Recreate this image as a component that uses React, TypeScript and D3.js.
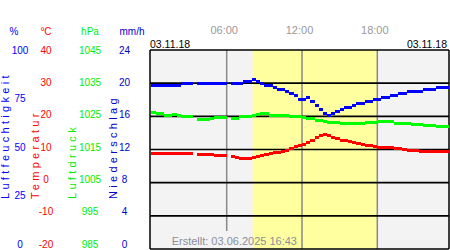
import React from 'react';
import * as d3 from 'd3';

// ---- data (20-minute readings, 03.11.18) ----
const stepHours = 1 / 3;
const humidity: (number | null)[] = [
  82, 82, 82, 82, 82, 82, 82,
  83, 83, 83, null, 83, 83, 83, 83, 83, 83, 83, null, 83, 83, 83,
  84, 84, 85, 84, 83, 82, 82, 81,
  80, 80, 79, 78, 77, 75, 75, 76, 74, 72,
  70, 68, 67, 68, 69, 70, 71, 71, 72, 73,
  73, 74, 74, 75, 75, 76, 76, 77, 77, 78,
  78, 79, 79, 79, 79, 80, 80, 80, 81, 81,
  81, 81,
];
const temperature: (number | null)[] = [
  8.7, 8.7, 8.7, 8.7, 8.7, 8.7, 8.7,
  8.9, 8.9, 8.9, null, 8.6, 8.6, 8.5, 8.5, 8.3, 8.3, 8.3, null, 7.8, 7.6, 7.4,
  7.4, 7.4, 7.6, 7.9, 8.2, 8.5, 8.8, 9.0,
  9.1, 9.4, 9.8, 10.3, 10.8, 11.3, 11.5, 12.0, 12.6, 13.7,
  14.3, 14.5, 14.1, 13.6, 13.2, 12.8, 12.7, 12.3, 12.1, 11.9,
  11.6, 11.3, 11.1, 10.9, 10.7, 10.5, 10.5, 10.5, 10.2, 10.2,
  10.1, 9.7, 9.7, 9.7, 9.5, 9.5, 9.5, 9.5, 9.5, 9.5,
  9.5, 9.5,
];
const pressure: (number | null)[] = [
  1026.2, 1025.8, 1025.8, 1025.4, 1025.4, 1025.5, 1025.3,
  1025.1, 1025.0, 1024.8, null, 1024.0, 1024.0, 1024.0, 1024.3, 1024.5, 1024.5, 1024.5, null, 1024.4, 1024.4, 1024.8,
  1025.0, 1025.1, 1025.3, 1025.7, 1026.0, 1025.9, 1025.4, 1025.3,
  1025.3, 1025.3, 1025.3, 1025.0, 1024.9, 1024.9, 1024.7, 1024.3, 1024.2, 1023.8,
  1023.6, 1023.4, 1023.1, 1023.1, 1023.1, 1022.9, 1022.9, 1022.9, 1022.9, 1022.8,
  1022.8, 1023.0, 1023.1, 1023.1, 1023.3, 1023.3, 1023.3, 1023.3, 1022.9, 1022.9,
  1022.9, 1022.9, 1022.5, 1022.5, 1022.5, 1022.1, 1022.1, 1022.1, 1021.9, 1021.9,
  1021.9, 1021.9,
];

const humidityTicks = [0, 25, 50, 75, 100];
const tempTicks = [-20, -10, 0, 10, 20, 30, 40];
const pressureTicks = [985, 995, 1005, 1015, 1025, 1035, 1045];
const rainTicks = [0, 4, 8, 12, 16, 20, 24];
const timeTicks = [6, 12, 18];
const timeLabels = ['06:00', '12:00', '18:00'];
const daylight = [8.07, 18.0];
const dateLabel = '03.11.18';
const createdLabel = 'Erstellt: 03.06.2025 16:43';

const FONT = 'Liberation Sans, Arial, sans-serif';

export default function App() {
  const W = 450, H = 250;
  const L = 150, R = 449, T = 50, B = 249;
  const x = d3.scaleLinear().domain([0, 24]).range([151.4, 452.6]);
  const yHum = d3.scaleLinear().domain([0, 100]).range([B, T]);
  const yTemp = d3.scaleLinear().domain([-20, 40]).range([B, T]);
  const yPres = d3.scaleLinear().domain([985, 1045]).range([B, T]);
  // label scales (tick text)
  const lHum = d3.scaleLinear().domain([0, 100]).range([244, 50]);
  const lTemp = d3.scaleLinear().domain([-20, 40]).range([244, 50]);
  const lPres = d3.scaleLinear().domain([985, 1045]).range([244, 50]);
  const lRain = d3.scaleLinear().domain([0, 24]).range([244, 50]);

  const createdTop = 231;
  const createdLeft = 175;
  const createdRight = 297;

  const series = [
    { data: humidity, y: yHum, color: '#0000ff' },
    { data: pressure, y: yPres, color: '#00ff00' },
    { data: temperature, y: yTemp, color: '#ff0000' },
  ];

  return (
    <div style={{ position: 'absolute', left: 0, top: 0 }}>
      <svg width={W} height={H} style={{ display: 'block', background: '#fff' }} fontFamily={FONT}>
        <defs>
          <clipPath id="plot">
            <rect x={L} y={T} width={R - L} height={B - T} />
          </clipPath>
        </defs>
        {/* background */}
        <rect x={L} y={T} width={R - L} height={B - T} fill="#f3f3f3" />
        <rect x={x(daylight[0])} y={T} width={x(daylight[1]) - x(daylight[0])} height={B - T} fill="#ffffa0" />

        {/* vertical time lines */}
        {timeTicks.map((t) => {
          const xx = x(t);
          const y2 = xx > createdLeft && xx < createdRight ? createdTop : B;
          return <line key={t} x1={xx} x2={xx} y1={T} y2={y2} stroke="#888" strokeWidth={1.5} />;
        })}
        {/* horizontal grid */}
        {tempTicks.map((v) => (
          <line key={v} x1={L} x2={R} y1={yTemp(v)} y2={yTemp(v)} stroke="#000" strokeWidth={1.6} />
        ))}
        <line x1={L} x2={L} y1={T} y2={B} stroke="#000" strokeWidth={1.5} />
        <line x1={R} x2={R} y1={T} y2={B} stroke="#000" strokeWidth={1.5} />

        {/* data */}
        <g clipPath="url(#plot)" shapeRendering="crispEdges">
          {series.map((s, si) =>
            s.data.map((v, i) =>
              v == null ? null : (
                <line
                  key={si + '-' + i}
                  x1={x(i * stepHours)}
                  x2={x((i + 1) * stepHours)}
                  y1={s.y(v)}
                  y2={s.y(v)}
                  stroke={s.color}
                  strokeWidth={3}
                />
              )
            )
          )}
        </g>

        <text x={createdRight} y={241} textAnchor="end" dominantBaseline="central" fontSize={11} fill="#8a8f9a">
          {createdLabel}
        </text>

        {/* time labels */}
        {timeTicks.map((t, i) => (
          <text key={t} x={x(t) - 2.5} y={30} textAnchor="middle" dominantBaseline="central" fontSize={11} fill="#999">
            {timeLabels[i]}
          </text>
        ))}
        <text x={150} y={43.5} dominantBaseline="central" fontSize={10.5} fill="#000">{dateLabel}</text>
        <text x={447} y={43.5} textAnchor="end" dominantBaseline="central" fontSize={10.5} fill="#000">{dateLabel}</text>

        {/* unit headers */}
        <text x={14} y={31} textAnchor="middle" dominantBaseline="central" fontSize={10} fill="#0000ff">%</text>
        <text x={46} y={31} textAnchor="middle" dominantBaseline="central" fontSize={10} fill="#ff0000">°C</text>
        <text x={90} y={31} textAnchor="middle" dominantBaseline="central" fontSize={10} fill="#00ee00">hPa</text>
        <text x={132} y={31} textAnchor="middle" dominantBaseline="central" fontSize={10} fill="#0000cc">mm/h</text>

        {/* tick labels */}
        {humidityTicks.map((v) => (
          <text key={'h' + v} x={20} y={lHum(v)} textAnchor="middle" dominantBaseline="central" fontSize={10} fill="#0000ff">{v}</text>
        ))}
        {tempTicks.map((v) => (
          <text key={'t' + v} x={46} y={lTemp(v)} textAnchor="middle" dominantBaseline="central" fontSize={10} fill="#ff0000">{v}</text>
        ))}
        {pressureTicks.map((v) => (
          <text key={'p' + v} x={90} y={lPres(v)} textAnchor="middle" dominantBaseline="central" fontSize={10} fill="#00ee00">{v}</text>
        ))}
        {rainTicks.map((v) => (
          <text key={'r' + v} x={124.5} y={lRain(v)} textAnchor="middle" dominantBaseline="central" fontSize={10} fill="#0000cc">{v}</text>
        ))}

        {/* rotated axis titles */}
        {[
          { label: 'Luftfeuchtigkeit', x: 5, color: '#0000ff' },
          { label: 'Temperatur', x: 35, color: '#ff0000' },
          { label: 'Luftdruck', x: 71.5, color: '#00ee00' },
          { label: 'Niederschlag', x: 113, color: '#0000cc' },
        ].map((a) => (
          <text
            key={a.label}
            transform={`translate(${a.x},199) rotate(-90)`}
            dominantBaseline="central"
            fontSize={11}
            letterSpacing={3.3}
            fill={a.color}
          >
            {a.label}
          </text>
        ))}
      </svg>
    </div>
  );
}
